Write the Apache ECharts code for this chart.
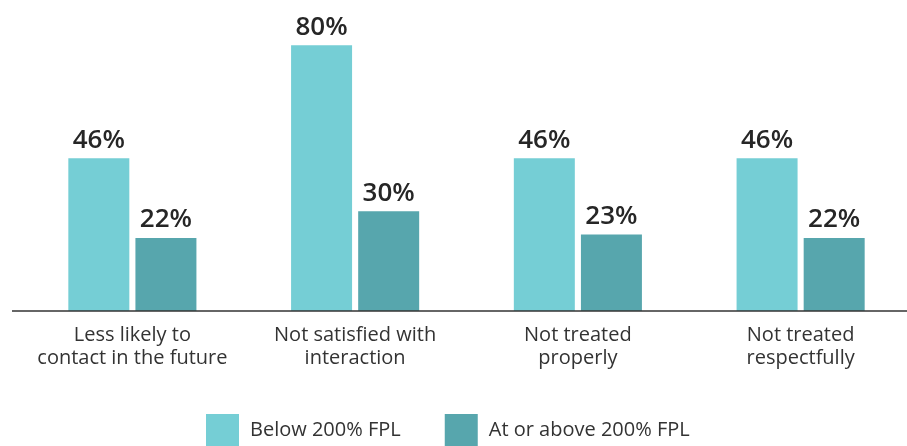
<!DOCTYPE html>
<html>
<head>
<meta charset="utf-8">
<script src="https://cdn.jsdelivr.net/npm/echarts@6/dist/echarts.min.js"></script>
<style>
  html, body { margin: 0; padding: 0; background: #fff; }
  #chart { width: 907px; height: 446px; }
</style>
</head>
<body>
<div id="chart"></div>
<script>
// categories and values
var categories = [
  'Less likely to\ncontact in the future',
  'Not satisfied with\ninteraction',
  'Not treated\nproperly',
  'Not treated\nrespectfully'
];
var belowFpl = [46, 80, 46, 46];
var aboveFpl = [22, 30, 23, 22];
var seriesNames = ['Below 200% FPL', 'At or above 200% FPL'];

var font = '"Open Sans", "Noto Sans", sans-serif';

var chart = echarts.init(document.getElementById('chart'));

var labelStyle = {
  show: true,
  position: 'top',
  distance: 5,
  formatter: '{c}%',
  fontFamily: font,
  fontWeight: 600,
  fontSize: 26,
  color: '#262626'
};

chart.setOption({
  animation: false,
  // plot runs slightly past the right edge, like the reference
  grid: {
    left: 21, width: 891, top: 12, bottom: 135,
    containLabel: false,
    outerBoundsMode: 'none'
  },
  legend: {
    left: 206,
    top: 414,
    padding: 0,
    itemWidth: 33,
    itemHeight: 33,
    itemGap: 44,
    icon: 'rect',
    textStyle: { fontFamily: font, fontSize: 20, color: '#333', padding: [0, 0, 0, 6] },
    data: seriesNames
  },
  xAxis: {
    type: 'category',
    data: categories,
    axisLine: { show: false },
    axisTick: { show: false },
    axisLabel: {
      fontFamily: font,
      fontSize: 20,
      color: '#333',
      lineHeight: 23,
      margin: 13,
      interval: 0
    }
  },
  yAxis: {
    type: 'value',
    min: 0,
    max: 90,
    show: false,
    splitLine: { show: false }
  },
  series: [
    {
      name: seriesNames[0],
      type: 'bar',
      data: belowFpl,
      barWidth: 61,
      barGap: '10%',
      itemStyle: { color: '#75CED5', borderWidth: 0 },
      label: labelStyle
    },
    {
      name: seriesNames[1],
      type: 'bar',
      data: aboveFpl,
      barWidth: 61,
      itemStyle: { color: '#57A6AD', borderWidth: 0 },
      label: labelStyle
    }
  ]
});

// baseline rule: starts a bit left of the plot and runs to the edge
var baseY = chart.convertToPixel({ yAxisIndex: 0 }, 0);
chart.setOption({
  graphic: [{
    type: 'line',
    shape: { x1: 12, y1: baseY, x2: 907, y2: baseY },
    style: { stroke: '#333', lineWidth: 1.5 },
    z: 10
  }]
});
</script>
</body>
</html>
